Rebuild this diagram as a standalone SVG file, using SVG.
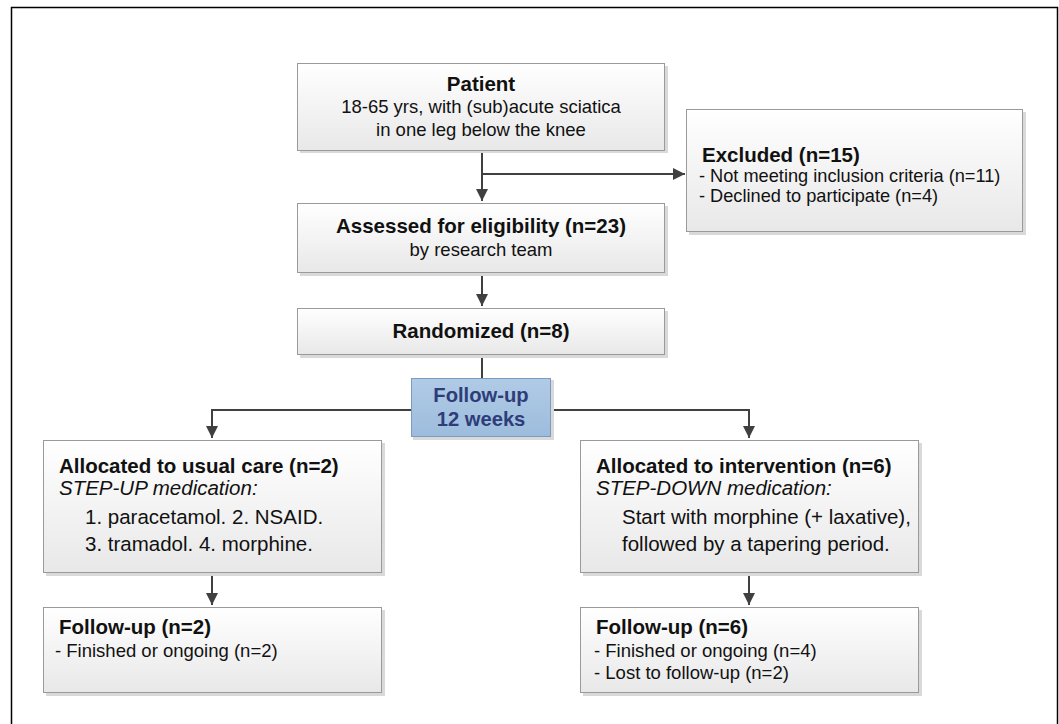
<svg xmlns="http://www.w3.org/2000/svg" width="1059" height="724" viewBox="0 0 1059 724">
<defs>
<linearGradient id="g" x1="0" y1="0" x2="0" y2="1">
<stop offset="0" stop-color="#ffffff"/>
<stop offset="1" stop-color="#e8e8e8"/>
</linearGradient>
<linearGradient id="gb" x1="0" y1="0" x2="0" y2="1">
<stop offset="0" stop-color="#b0cbe6"/>
<stop offset="1" stop-color="#9dbcdc"/>
</linearGradient>
<marker id="ah" markerWidth="12" markerHeight="12" viewBox="0 0 12 12" refX="12" refY="6" orient="auto" markerUnits="userSpaceOnUse">
<path d="M0,0 L12,6 L0,12 Z" fill="#404040"/>
</marker>
</defs>
<style>
.box{fill:url(#g);stroke:#9a9a9a;stroke-width:1}
.sh{fill:#d9d9d9}
.blue{fill:url(#gb);stroke:#7b9cc0;stroke-width:1}
.t{font-family:"Liberation Sans",Arial,sans-serif;font-size:18.5px;fill:#111}
.b{font-weight:bold;font-size:20.5px}
.l{font-size:20.5px}
.s{font-size:18.2px}
.i{font-style:italic}
.bt{font-family:"Liberation Sans",Arial,sans-serif;font-size:20.2px;font-weight:bold;fill:#2e3d7a}
.c{fill:none;stroke:#404040;stroke-width:2}
</style>
<rect x="0" y="0" width="1059" height="724" fill="#ffffff"/>
<rect x="11.5" y="7.5" width="1046" height="730" fill="none" stroke="#000" stroke-width="1.5"/>

<g id="connectors">
<path class="c" d="M482,150 V201" marker-end="url(#ah)"/>
<path class="c" d="M482,174 H685" marker-end="url(#ah)"/>
<path class="c" d="M482,273 V306" marker-end="url(#ah)"/>
<path class="c" d="M482,355 V378"/>
<path class="c" d="M411,410 H212 V438" marker-end="url(#ah)"/>
<path class="c" d="M551,410 H749 V438" marker-end="url(#ah)"/>
<path class="c" d="M212,573 V605" marker-end="url(#ah)"/>
<path class="c" d="M749,573 V605" marker-end="url(#ah)"/>
</g>

<g id="patient">
<rect class="sh" x="300" y="66" width="368" height="87"/>
<rect class="box" x="297.5" y="63.5" width="367" height="87"/>
<text class="t b" x="481" y="91" text-anchor="middle">Patient</text>
<text class="t" x="481" y="113" text-anchor="middle">18-65 yrs, with (sub)acute sciatica</text>
<text class="t" x="481" y="136" text-anchor="middle">in one leg below the knee</text>
</g>

<g id="excluded">
<rect class="sh" x="689" y="112" width="337" height="123"/>
<rect class="box" x="686.5" y="109.5" width="336" height="122"/>
<text class="t b" x="702" y="162">Excluded (n=15)</text>
<text class="t s" x="699" y="182">- Not meeting inclusion criteria (n=11)</text>
<text class="t s" x="699" y="202">- Declined to participate (n=4)</text>
</g>

<g id="assessed">
<rect class="sh" x="300" y="206" width="368" height="70"/>
<rect class="box" x="297.5" y="203.5" width="367" height="69"/>
<text class="t b" x="481" y="233" text-anchor="middle">Assessed for eligibility (n=23)</text>
<text class="t" x="481" y="256" text-anchor="middle">by research team</text>
</g>

<g id="randomized">
<rect class="sh" x="300" y="311" width="368" height="47"/>
<rect class="box" x="297.5" y="308.5" width="367" height="46"/>
<text class="t b" x="481" y="338" text-anchor="middle">Randomized (n=8)</text>
</g>

<g id="followup12">
<rect class="sh" x="413" y="380" width="141" height="60"/>
<rect class="blue" x="411.5" y="378.5" width="139" height="58"/>
<text class="bt" x="481" y="402" text-anchor="middle">Follow-up</text>
<text class="bt" x="481" y="426" text-anchor="middle">12 weeks</text>
</g>

<g id="usualcare">
<rect class="sh" x="46" y="443" width="339" height="133"/>
<rect class="box" x="43.5" y="440.5" width="338" height="132"/>
<text class="t b" x="59" y="473">Allocated to usual care (n=2)</text>
<text class="t l i" x="59" y="495">STEP-UP medication:</text>
<text class="t l" x="85" y="524">1. paracetamol. 2. NSAID.</text>
<text class="t l" x="85" y="551">3. tramadol. 4. morphine.</text>
</g>

<g id="intervention">
<rect class="sh" x="583" y="443" width="339" height="133"/>
<rect class="box" x="580.5" y="440.5" width="338" height="132"/>
<text class="t b" x="596" y="473">Allocated to intervention (n=6)</text>
<text class="t l i" x="596" y="495">STEP-DOWN medication:</text>
<text class="t l" x="622" y="524">Start with morphine (+ laxative),</text>
<text class="t l" x="622" y="551">followed by a tapering period.</text>
</g>

<g id="followup-left">
<rect class="sh" x="46" y="610" width="339" height="86"/>
<rect class="box" x="43.5" y="607.5" width="338" height="85"/>
<text class="t b" x="59" y="634">Follow-up (n=2)</text>
<text class="t" x="55" y="657">- Finished or ongoing (n=2)</text>
</g>

<g id="followup-right">
<rect class="sh" x="583" y="610" width="339" height="86"/>
<rect class="box" x="580.5" y="607.5" width="338" height="85"/>
<text class="t b" x="596" y="634">Follow-up (n=6)</text>
<text class="t" x="594" y="657">- Finished or ongoing (n=4)</text>
<text class="t" x="594" y="679">- Lost to follow-up (n=2)</text>
</g>
</svg>
